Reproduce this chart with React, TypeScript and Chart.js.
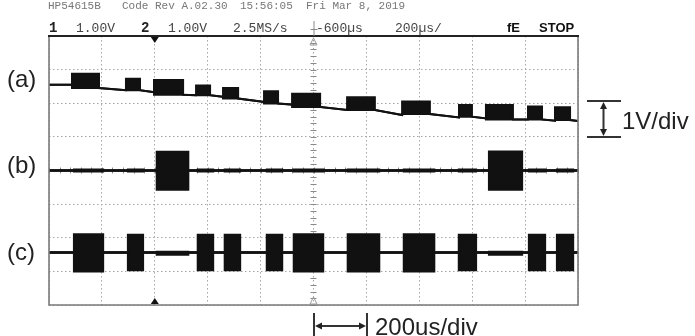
import React, { useEffect, useRef } from "react";
import { Chart, registerables } from "chart.js";
Chart.register(...registerables);

// Time axis in µs: 200 µs/div, 10 divisions, centre at the -600 µs delay
const X_MIN = -1600;
const X_MAX = 400;
const X_STEP = 200;
// Vertical axis in divisions (1 V/div), 8 divisions
const Y_MIN = -4;
const Y_MAX = 4;
const CENTER_T = -600;

// Trace (a): staircase baseline with raised noisy pulses (levels in div)
const aStart = [-1513, -1309, -1203, -1044, -942, -787, -681, -473, -265, -50, 52, 211, 313];
const aEnd = [-1411, -1256, -1093, -991, -885, -734, -575, -368, -160, -1, 154, 264, 370];
const aTop = [2.88, 2.73, 2.69, 2.53, 2.45, 2.36, 2.28, 2.18, 2.05, 1.95, 1.95, 1.9, 1.88];
const aBottom = [2.45, 2.39, 2.25, 2.24, 2.14, 1.99, 1.89, 1.8, 1.68, 1.6, 1.52, 1.52, 1.5];
const aBefore = [2.55, 2.39, 2.33, 2.24, 2.19, 2.04, 1.96, 1.8, 1.65, 1.58, 1.55, 1.52, 1.48];
const aFirst = 2.55;
const aLast = 1.47;

// Trace (b): two wide bursts on a flat baseline
const bBase = 0;
const bStart = [-1192, 64];
const bEnd = [-1074, 188];
const bHigh = [0.55, 0.56];
const bLow = [-0.57, -0.57];
const bCrosstalk = 0.025;

// Trace (c): bursts on a flat baseline
const cBase = -2.44;
const cStart = [-1505, -1301, -1037, -935, -776, -674, -470, -258, -50, 215, 321];
const cEnd = [-1396, -1245, -980, -878, -719, -564, -352, -144, 14, 275, 381];
const cHigh = [-1.9, -1.92, -1.92, -1.92, -1.92, -1.9, -1.9, -1.9, -1.92, -1.92, -1.92];
const cLow = [-3.0, -2.96, -2.96, -2.96, -2.96, -3.0, -3.0, -3.0, -2.96, -2.96, -2.96];
const cNoiseHigh = -2.42;
const cNoiseLow = -2.5;

type Seg = { start: number; end: number; hi: number; lo: number; before: number; after: number };

function envelopes(first: number, last: number, segs: Seg[]) {
  const up: { x: number; y: number }[] = [{ x: X_MIN, y: first }];
  const dn: { x: number; y: number }[] = [{ x: X_MIN, y: first }];
  const sorted = [...segs].sort((p, q) => p.start - q.start);
  for (const s of sorted) {
    up.push({ x: s.start, y: s.before }, { x: s.start, y: s.hi }, { x: s.end, y: s.hi }, { x: s.end, y: s.after });
    dn.push({ x: s.start, y: s.before }, { x: s.start, y: s.lo }, { x: s.end, y: s.lo }, { x: s.end, y: s.after });
  }
  up.push({ x: X_MAX, y: last });
  dn.push({ x: X_MAX, y: last });
  return [up, dn];
}

const aSegs: Seg[] = aStart.map((s, i) => ({
  start: s, end: aEnd[i], hi: aTop[i], lo: aBottom[i], before: aBefore[i], after: aBottom[i],
}));
const bSegs: Seg[] = [
  ...bStart.map((s, i) => ({ start: s, end: bEnd[i], hi: bHigh[i], lo: bLow[i], before: bBase, after: bBase })),
  ...cStart.map((s, i) => ({ start: s, end: cEnd[i], hi: bBase + bCrosstalk, lo: bBase - bCrosstalk, before: bBase, after: bBase })),
];
const cSegs: Seg[] = [
  ...cStart.map((s, i) => ({ start: s, end: cEnd[i], hi: cHigh[i], lo: cLow[i], before: cBase, after: cBase })),
  ...bStart.map((s, i) => ({ start: s, end: bEnd[i], hi: cNoiseHigh, lo: cNoiseLow, before: cBase, after: cBase })),
];

const INK = "#111111";

function traceSets(name: string, env: { x: number; y: number }[][], width: number) {
  const common = {
    borderColor: INK,
    backgroundColor: INK,
    borderWidth: width,
    pointRadius: 0,
    tension: 0,
    borderJoinStyle: "miter" as const,
  };
  return [
    { ...common, label: name + " upper", data: env[0], fill: false },
    { ...common, label: name + " lower", data: env[1], fill: "-1" },
  ];
}

function tri(ctx: CanvasRenderingContext2D, pts: number[][], fill: string | null, stroke: string | null) {
  ctx.beginPath();
  ctx.moveTo(pts[0][0], pts[0][1]);
  for (let i = 1; i < pts.length; i++) ctx.lineTo(pts[i][0], pts[i][1]);
  ctx.closePath();
  if (fill) { ctx.fillStyle = fill; ctx.fill(); }
  if (stroke) { ctx.strokeStyle = stroke; ctx.lineWidth = 1; ctx.stroke(); }
}

const overlay = {
  id: "scopeOverlay",
  beforeDatasetsDraw(chart: any) {
    const ctx: CanvasRenderingContext2D = chart.ctx;
    const xs = chart.scales.x;
    const ys = chart.scales.y;
    const cx = xs.getPixelForValue(CENTER_T);
    const cy = ys.getPixelForValue(0);
    ctx.save();
    ctx.strokeStyle = "#8a8a8a";
    ctx.lineWidth = 1;
    ctx.beginPath();
    for (let v = Y_MIN; v <= Y_MAX + 1e-9; v += 0.2) {
      const py = Math.round(ys.getPixelForValue(v)) + 0.5;
      ctx.moveTo(cx - 3, py);
      ctx.lineTo(cx + 3, py);
    }
    for (let t = X_MIN; t <= X_MAX + 1e-9; t += 40) {
      const px = Math.round(xs.getPixelForValue(t)) + 0.5;
      ctx.moveTo(px, cy - 3);
      ctx.lineTo(px, cy + 3);
    }
    ctx.stroke();
    ctx.restore();
  },
  afterDraw(chart: any) {
    const ctx: CanvasRenderingContext2D = chart.ctx;
    const a = chart.chartArea;
    const xs = chart.scales.x;
    const cx = xs.getPixelForValue(CENTER_T);
    ctx.save();
    // frame
    ctx.strokeStyle = "#7a7a7a";
    ctx.lineWidth = 1.6;
    ctx.beginPath();
    ctx.moveTo(a.left, a.top);
    ctx.lineTo(a.left, a.bottom);
    ctx.lineTo(a.right, a.bottom);
    ctx.lineTo(a.right, a.top);
    ctx.stroke();
    ctx.strokeStyle = "#222";
    ctx.lineWidth = 2;
    ctx.beginPath();
    ctx.moveTo(a.left - 1, a.top);
    ctx.lineTo(a.right + 1, a.top);
    ctx.stroke();

    // markers
    const m2 = xs.getPixelForValue(-1200);
    tri(ctx, [[m2 - 4, a.top + 1], [m2 + 4, a.top + 1], [m2, a.top + 7]], "#111", null);
    tri(ctx, [[m2 - 4, a.bottom - 1], [m2 + 4, a.bottom - 1], [m2, a.bottom - 7]], "#111", null);
    tri(ctx, [[cx - 3.5, a.bottom - 1], [cx + 3.5, a.bottom - 1], [cx, a.bottom - 8]], null, "#9a9a9a");
    tri(ctx, [[cx - 3.5, a.top + 9], [cx + 3.5, a.top + 9], [cx, a.top + 2]], null, "#9a9a9a");
    ctx.strokeStyle = "#888";
    ctx.lineWidth = 1;
    ctx.beginPath();
    ctx.moveTo(cx + 0.5, 21);
    ctx.lineTo(cx + 0.5, a.top);
    ctx.moveTo(cx - 3, 29.5);
    ctx.lineTo(cx + 4, 29.5);
    ctx.stroke();

    // header texts
    ctx.textBaseline = "middle";
    ctx.fillStyle = "#777";
    ctx.font = '11px "Liberation Mono"';
    ctx.fillText("HP54615B", 48, 6);
    ctx.fillText("Code Rev A.02.30", 122, 6);
    ctx.fillText("15:56:05", 240, 6);
    ctx.fillText("Fri Mar 8, 2019", 306, 6);

    ctx.textBaseline = "alphabetic";
    ctx.fillStyle = "#222";
    ctx.font = 'bold 14px "Liberation Mono"';
    ctx.fillText("1", 49, 32);
    ctx.fillText("2", 141, 32);
    ctx.fillStyle = "#444";
    ctx.font = '13px "Liberation Mono"';
    ctx.fillText("1.00V", 76, 32);
    ctx.fillText("1.00V", 168, 32);
    ctx.fillText("2.5MS/s", 233, 32);
    ctx.fillText("-600µs", 316, 32);
    ctx.fillText("200µs/", 395, 32);
    ctx.fillStyle = "#111";
    ctx.font = 'bold 13px "Liberation Sans"';
    ctx.fillText("fE", 507, 32);
    ctx.fillText("STOP", 539, 32);

    // trace labels
    ctx.fillStyle = "#222";
    ctx.font = '24px "Liberation Sans"';
    ctx.fillText("(a)", 7, 87);
    ctx.fillText("(b)", 7, 173);
    ctx.fillText("(c)", 7, 260);

    // 1V/div bracket
    ctx.strokeStyle = "#333";
    ctx.lineWidth = 2;
    ctx.beginPath();
    ctx.moveTo(587, 101);
    ctx.lineTo(621, 101);
    ctx.moveTo(587, 137);
    ctx.lineTo(621, 137);
    ctx.moveTo(603.5, 106);
    ctx.lineTo(603.5, 132);
    ctx.stroke();
    tri(ctx, [[600, 109], [607, 109], [603.5, 102]], "#222", null);
    tri(ctx, [[600, 129], [607, 129], [603.5, 136]], "#222", null);
    ctx.fillText("1V/div", 622, 129);

    // 200us/div bracket
    ctx.beginPath();
    ctx.moveTo(314, 313);
    ctx.lineTo(314, 336);
    ctx.moveTo(367, 313);
    ctx.lineTo(367, 336);
    ctx.moveTo(318, 326);
    ctx.lineTo(363, 326);
    ctx.stroke();
    tri(ctx, [[322, 322.5], [322, 329.5], [315, 326]], "#222", null);
    tri(ctx, [[359, 322.5], [359, 329.5], [366, 326]], "#222", null);
    ctx.fillText("200us/div", 375, 335);
    ctx.restore();
  },
};

export default function App() {
  const ref = useRef<HTMLCanvasElement>(null);
  useEffect(() => {
    const canvas = ref.current;
    if (!canvas) return;
    const datasets: any[] = [
      ...traceSets("(a)", envelopes(aFirst, aLast, aSegs), 2),
      ...traceSets("(b)", envelopes(bBase, bBase, bSegs), 2.4),
      ...traceSets("(c)", envelopes(cBase, cBase, cSegs), 2.4),
    ];
    const gridCommon = {
      color: "#a8a8a8",
      lineWidth: 1,
      drawTicks: false,
    };
    const chart = new Chart(canvas, {
      type: "line",
      data: { datasets },
      plugins: [overlay],
      options: {
        responsive: false,
        animation: false,
        devicePixelRatio: 1,
        events: [],
        layout: { padding: { left: 49, top: 36, right: 117, bottom: 31 }, autoPadding: false },
        plugins: { legend: { display: false }, tooltip: { enabled: false } },
        scales: {
          x: {
            type: "linear",
            min: X_MIN,
            max: X_MAX,
            ticks: { display: false, stepSize: X_STEP },
            grid: gridCommon,
            border: { display: false, dash: [1.5, 2.5] },
          },
          y: {
            type: "linear",
            min: Y_MIN,
            max: Y_MAX,
            ticks: { display: false, stepSize: 1 },
            grid: gridCommon,
            border: { display: false, dash: [1.5, 2.5] },
          },
        },
      } as any,
    });
    return () => chart.destroy();
  }, []);
  return (
    <div style={{ position: "absolute", left: 0, top: 0, width: 695, height: 336, background: "#fff" }}>
      <canvas ref={ref} width={695} height={336} style={{ display: "block", width: 695, height: 336 }} />
    </div>
  );
}
